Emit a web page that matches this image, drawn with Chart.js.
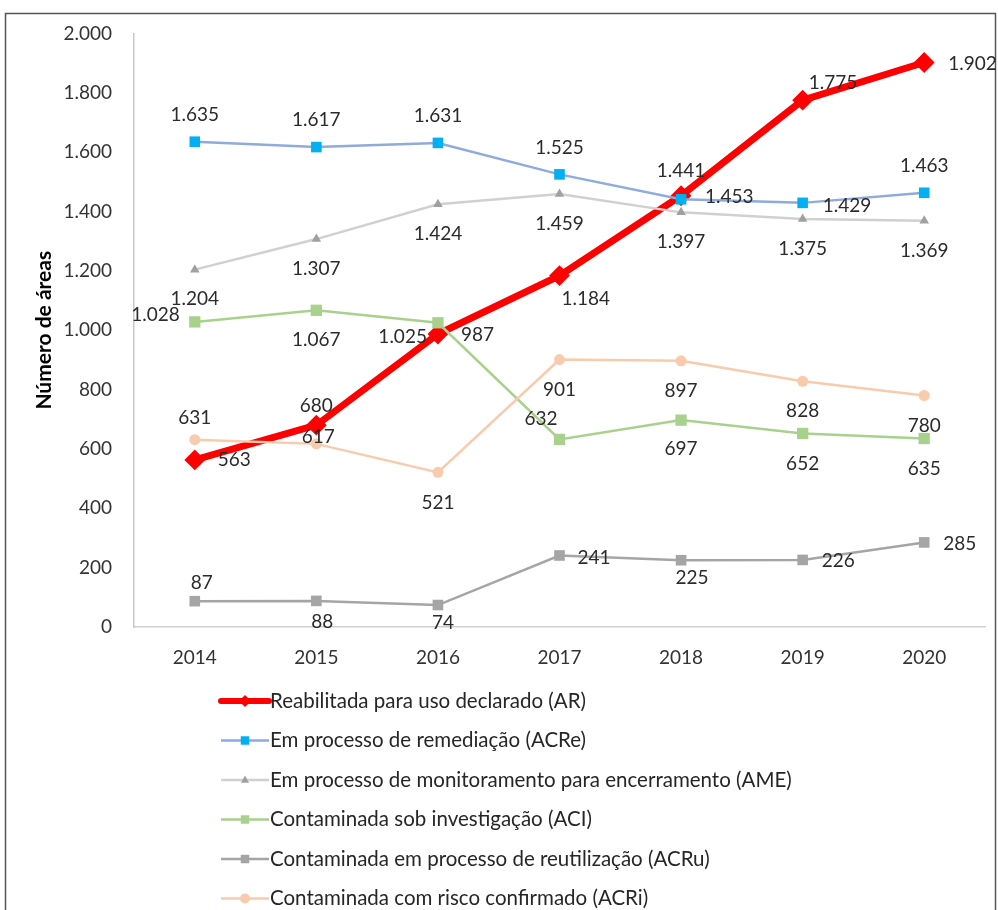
<!DOCTYPE html>
<html>
<head>
<meta charset="utf-8">
<script src="https://cdn.jsdelivr.net/npm/chart.js@4/dist/chart.umd.min.js"></script>
<style>
  html, body { margin: 0; padding: 0; background: #ffffff; }
  #wrap { position: relative; width: 998px; height: 910px; }
</style>
</head>
<body>
<div id="wrap"><canvas id="c" width="998" height="910"></canvas></div>
<script>
// ---- data ----
const years = ['2014', '2015', '2016', '2017', '2018', '2019', '2020'];
const seriesNames = [
  'Reabilitada para uso declarado (AR)',
  'Em processo de remediação (ACRe)',
  'Em processo de monitoramento para encerramento (AME)',
  'Contaminada sob investigação (ACI)',
  'Contaminada em processo de reutilização (ACRu)',
  'Contaminada com risco confirmado (ACRi)'
];
const valuesAR   = [563, 680, 987, 1184, 1453, 1775, 1902];
const valuesACRe = [1635, 1617, 1631, 1525, 1441, 1429, 1463];
const valuesAME  = [1204, 1307, 1424, 1459, 1397, 1375, 1369];
const valuesACI  = [1028, 1067, 1025, 632, 697, 652, 635];
const valuesACRu = [87, 88, 74, 241, 225, 226, 285];
const valuesACRi = [631, 617, 521, 901, 897, 828, 780];
const yTicks = [0, 200, 400, 600, 800, 1000, 1200, 1400, 1600, 1800, 2000];
const yTitle = 'Número de áreas';

// ---- styles (kept apart from data) ----
const styles = [
  { line: '#FF0000', fill: '#FF0000', width: 7, point: 'rectRot', radius: 9, lgRadius: 6 },
  { line: '#8FAADC', fill: '#00B0F0', width: 2.5, point: 'rect', radius: 7.5, lgRadius: 6 },
  { line: '#D0D0D0', fill: '#A0A0A0', width: 2.5, point: 'triangle', radius: 5.5, lgRadius: 4.5 },
  { line: '#A9D18E', fill: '#A9D18E', width: 2.5, point: 'rect', radius: 8, lgRadius: 6 },
  { line: '#A5A5A5', fill: '#A5A5A5', width: 2.5, point: 'rect', radius: 7.5, lgRadius: 6 },
  { line: '#F8CBAD', fill: '#F8CBAD', width: 2.5, point: 'circle', radius: 5.5, lgRadius: 5 }
];
// label placement per point: [dx, dy, align]
const labelPlace = [
  [[23,0,'left'],[0,-19,'center'],[23,1,'left'],[2,23,'left'],[24,1,'left'],[6,-17,'left'],[24,1,'left']],
  [[0,-27,'center'],[0,-27,'center'],[0,-27,'center'],[0,-27,'center'],[0,-28,'center'],[20,3,'left'],[0,-27,'center']],
  [[0,29,'center'],[0,30,'center'],[0,30,'center'],[0,30,'center'],[0,30,'center'],[0,30,'center'],[0,30,'center']],
  [[-15,-7,'right'],[0,30,'center'],[-11,14,'right'],[-2,-21,'right'],[0,29,'center'],[0,30,'center'],[0,30,'center']],
  [[7,-18,'center'],[6,21,'center'],[5,18,'center'],[18,2,'left'],[11,18,'center'],[19,1,'left'],[19,1,'left']],
  [[0,-22,'center'],[2,-7,'center'],[0,31,'center'],[0,30,'center'],[0,30,'center'],[0,30,'center'],[0,30,'center']]
];

const FONT = 'Lato, "Open Sans", sans-serif';
function fmt(v) { return String(v).replace(/\B(?=(\d{3})+(?!\d))/g, '.'); }

const allValues = [valuesAR, valuesACRe, valuesAME, valuesACI, valuesACRu, valuesACRi];
const datasets = allValues.map((vals, i) => ({
  label: seriesNames[i],
  data: vals,
  borderColor: styles[i].line,
  backgroundColor: styles[i].fill,
  borderWidth: styles[i].width,
  pointStyle: styles[i].point,
  pointRadius: styles[i].radius,
  pointHoverRadius: styles[i].radius,
  pointBackgroundColor: styles[i].fill,
  pointBorderColor: styles[i].fill,
  pointBorderWidth: i === 0 ? 2 : 0,
  tension: 0,
  fill: false,
  order: 6 - i,
  clip: false
}));

// frame plugin
const framePlugin = {
  id: 'frame',
  beforeDraw(chart) {
    const ctx = chart.ctx;
    ctx.save();
    ctx.fillStyle = '#fff';
    ctx.fillRect(0, 0, chart.width, chart.height);
    ctx.strokeStyle = '#555';
    ctx.lineWidth = 1.5;
    ctx.strokeRect(5.5, 13.5, 990, 920);
    ctx.restore();
  }
};

// data labels plugin
const labelPlugin = {
  id: 'vlabels',
  afterDatasetsDraw(chart) {
    const ctx = chart.ctx;
    ctx.save();
    ctx.font = '19px ' + FONT;
    ctx.fillStyle = '#2b2b2b';
    ctx.textBaseline = 'middle';
    chart.data.datasets.forEach((ds, i) => {
      const meta = chart.getDatasetMeta(i);
      meta.data.forEach((pt, j) => {
        const p = labelPlace[i][j];
        ctx.textAlign = p[2];
        ctx.fillText(fmt(ds.data[j]), pt.x + p[0], pt.y + p[1]);
      });
    });
    ctx.restore();
  }
};

function drawMarker(ctx, style, x, y, r) {
  ctx.beginPath();
  if (style === 'rect') {
    const s = r * Math.SQRT1_2;
    ctx.rect(x - s, y - s, 2 * s, 2 * s);
  } else if (style === 'rectRot') {
    ctx.moveTo(x, y - r); ctx.lineTo(x + r, y); ctx.lineTo(x, y + r); ctx.lineTo(x - r, y);
    ctx.closePath();
  } else if (style === 'triangle') {
    ctx.moveTo(x, y - r); ctx.lineTo(x + r * 0.9, y + r * 0.6); ctx.lineTo(x - r * 0.9, y + r * 0.6);
    ctx.closePath();
  } else {
    ctx.arc(x, y, r, 0, Math.PI * 2);
  }
  ctx.fill();
}

// custom vertical legend
const legendPlugin = {
  id: 'vlegend',
  afterDraw(chart) {
    const ctx = chart.ctx;
    ctx.save();
    const x0 = 221, x1 = 269, yStart = 701, step = 39.5;
    chart.data.datasets.forEach((ds, i) => {
      const y = yStart + i * step;
      const st = styles[i];
      ctx.strokeStyle = st.line;
      ctx.lineWidth = i === 0 ? 6 : 2.5;
      ctx.lineCap = i === 0 ? 'round' : 'butt';
      ctx.beginPath(); ctx.moveTo(x0, y); ctx.lineTo(x1, y); ctx.stroke();
      ctx.fillStyle = st.fill;
      drawMarker(ctx, st.point, (x0 + x1) / 2, y, st.lgRadius);
      ctx.font = '20.5px ' + FONT;
      ctx.fillStyle = '#262626';
      ctx.textAlign = 'left';
      ctx.textBaseline = 'middle';
      ctx.fillText(ds.label, x1 + 1, y);
    });
    ctx.restore();
  }
};

new Chart(document.getElementById('c'), {
  type: 'line',
  data: { labels: years, datasets },
  plugins: [framePlugin, labelPlugin, legendPlugin],
  options: {
    responsive: false,
    animation: false,
    devicePixelRatio: 1,
    layout: { padding: { top: 30, right: 13, bottom: 223, left: 0 } },
    plugins: { legend: { display: false }, tooltip: { enabled: false } },
    scales: {
      x: {
        offset: true,
        grid: { display: false, drawTicks: false },
        border: { display: true, color: '#D0D0D0', width: 1.5 },
        ticks: { padding: 19, color: '#333333', font: { family: FONT, size: 19 }, maxRotation: 0 },
        afterFit(scale) { scale.height = 60; }
      },
      y: {
        min: 0, max: 2000,
        afterBuildTicks(scale) { scale.ticks = yTicks.map(v => ({ value: v })); },
        grid: { display: false, drawTicks: false },
        border: { display: true, color: '#C8C8C8', width: 1.5 },
        ticks: { padding: 22, color: '#333333', font: { family: FONT, size: 19 }, callback: v => fmt(v) },
        title: { display: true, text: yTitle, color: '#000', font: { family: FONT, size: 21, weight: 'bold' }, padding: { top: 32, bottom: 0 } },
        afterFit(scale) { scale.width = 134; }
      }
    }
  }
});
</script>
</body>
</html>
